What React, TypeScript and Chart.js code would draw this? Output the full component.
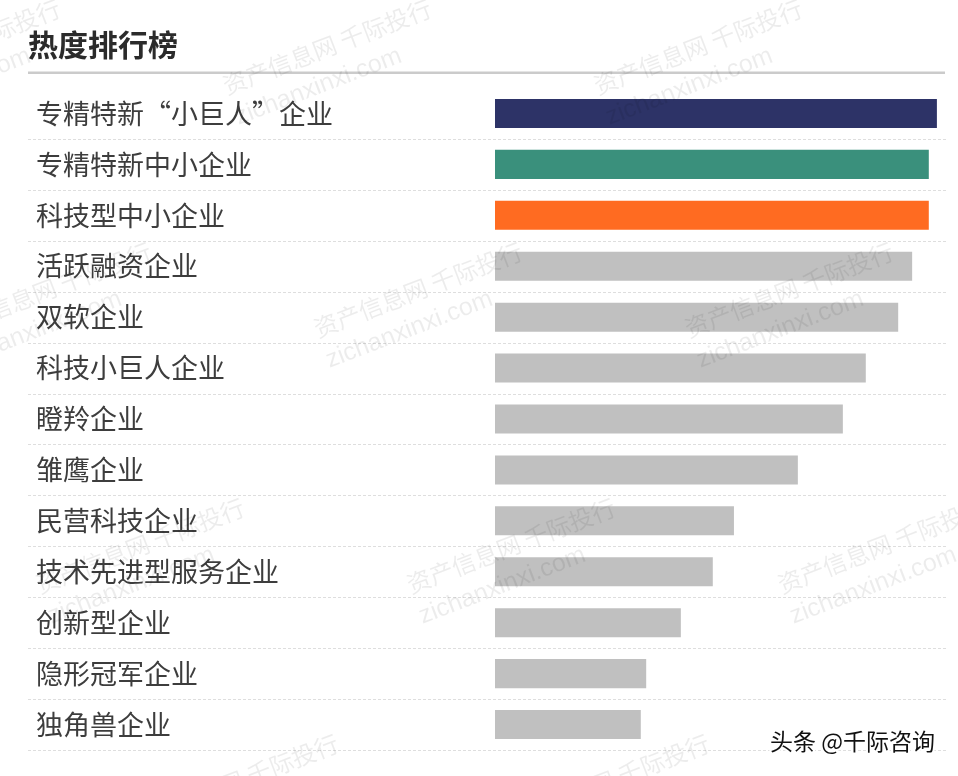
import React, { useEffect, useRef } from "react";
import { Chart, registerables } from "chart.js";

Chart.register(...registerables);

const titleText = "热度排行榜";
const sourceText = "头条 @千际咨询";
const watermarkCn = "资产信息网 千际投行";
const watermarkEn = "zichanxinxi.com";

const categories = [
  "专精特新“小巨人”企业",
  "专精特新中小企业",
  "科技型中小企业",
  "活跃融资企业",
  "双软企业",
  "科技小巨人企业",
  "瞪羚企业",
  "雏鹰企业",
  "民营科技企业",
  "技术先进型服务企业",
  "创新型企业",
  "隐形冠军企业",
  "独角兽企业",
];

const heatValues = [98.2, 96.4, 96.4, 92.7, 89.6, 82.4, 77.3, 67.3, 53.1, 48.4, 41.3, 33.6, 32.4];

const barColors = [
  "#2d3367",
  "#3a907c",
  "#ff6b21",
  "#c0c0c0",
  "#c0c0c0",
  "#c0c0c0",
  "#c0c0c0",
  "#c0c0c0",
  "#c0c0c0",
  "#c0c0c0",
  "#c0c0c0",
  "#c0c0c0",
  "#c0c0c0",
];

const CJK = '"Noto Sans CJK SC", "Noto Sans", sans-serif';

const decorPlugin = {
  id: "decor",
  beforeDatasetsDraw(chart: any) {
    const ctx = chart.ctx;
    const y = chart.scales.y;
    ctx.save();
    // title
    ctx.fillStyle = "#2b2b2b";
    ctx.font = `bold 30px ${CJK}`;
    ctx.textAlign = "left";
    ctx.textBaseline = "middle";
    ctx.fillText(titleText, 28, 45);
    // rule under title
    ctx.fillStyle = "#cbcbcb";
    ctx.fillRect(28, 71.5, 917, 2.5);
    // dashed separators
    ctx.strokeStyle = "#dedede";
    ctx.lineWidth = 1;
    ctx.setLineDash([3, 2]);
    const n = categories.length;
    for (let i = 0; i < n; i++) {
      const c = y.getPixelForValue(i);
      const next = i < n - 1 ? y.getPixelForValue(i + 1) : c + (c - y.getPixelForValue(i - 1));
      const yy = Math.round((c + next) / 2) + 0.5;
      ctx.beginPath();
      ctx.moveTo(28, yy);
      ctx.lineTo(947, yy);
      ctx.stroke();
    }
    ctx.restore();
  },
  afterDraw(chart: any) {
    const ctx = chart.ctx;
    ctx.save();
    // watermarks
    const rows = [
      { y: 95, x: -144 },
      { y: 338, x: -53 },
      { y: 594, x: 40 },
      { y: 830, x: 134 },
    ];
    ctx.fillStyle = "rgba(0,0,0,0.075)";
    ctx.textAlign = "left";
    ctx.textBaseline = "alphabetic";
    for (const r of rows) {
      for (let k = 0; k < 3; k++) {
        const x0 = r.x + 371 * k;
        ctx.save();
        ctx.translate(x0, r.y);
        ctx.rotate((-21 * Math.PI) / 180);
        ctx.font = `24px ${CJK}`;
        ctx.fillText(watermarkCn, 0, 0);
        ctx.font = `25px "Liberation Sans", Arial, sans-serif`;
        ctx.fillText(watermarkEn, 0, 32);
        ctx.restore();
      }
    }
    // source text
    ctx.font = `23px ${CJK}`;
    ctx.textAlign = "right";
    ctx.textBaseline = "middle";
    ctx.lineJoin = "round";
    ctx.strokeStyle = "#ffffff";
    ctx.lineWidth = 4;
    ctx.strokeText(sourceText, 935, 741);
    ctx.fillStyle = "#111111";
    ctx.fillText(sourceText, 935, 741);
    ctx.restore();
  },
};

export default function App() {
  const canvasRef = useRef<HTMLCanvasElement | null>(null);

  useEffect(() => {
    if (!canvasRef.current) return;
    const chart = new Chart(canvasRef.current, {
      type: "bar",
      data: {
        labels: categories,
        datasets: [
          {
            data: heatValues,
            backgroundColor: barColors,
            borderWidth: 0,
            barPercentage: 0.57,
            categoryPercentage: 1,
          },
        ],
      },
      options: {
        indexAxis: "y",
        animation: false,
        responsive: true,
        maintainAspectRatio: false,
        layout: { padding: { left: 36, right: 13, top: 88, bottom: 26 } },
        plugins: {
          legend: { display: false },
          tooltip: { enabled: false },
          title: { display: false },
        },
        scales: {
          x: { display: false, min: 0, max: 100 },
          y: {
            position: "left",
            grid: { display: false },
            border: { display: false },
            ticks: {
              crossAlign: "far",
              padding: 0,
              color: "#3d3d3d",
              font: { size: 27, family: CJK },
              autoSkip: false,
            },
            afterFit(scale: any) {
              scale.width = 459;
            },
          },
        },
      },
      plugins: [decorPlugin],
    });
    return () => chart.destroy();
  }, []);

  return (
    <div style={{ position: "absolute", left: 0, top: 0, width: 958, height: 776, background: "#fff" }}>
      <canvas ref={canvasRef} />
    </div>
  );
}
